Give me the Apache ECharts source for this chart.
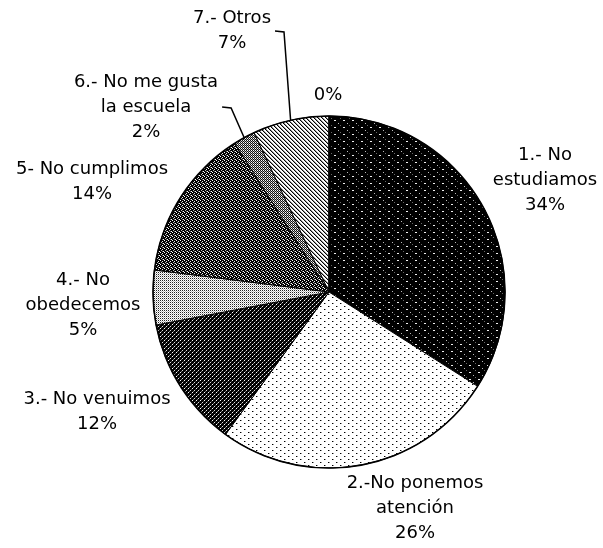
<!DOCTYPE html>
<html>
<head>
<meta charset="utf-8">
<script src="https://cdn.jsdelivr.net/npm/echarts@6/dist/echarts.min.js"></script>
<style>
  html, body { margin: 0; background: #fff; }
  #chart { width: 603px; height: 548px; }
</style>
</head>
<body>
<div id="chart"></div>
<script>
// datos del grafico
var categories = ['1.- No\nestudiamos', '2.-No ponemos\natención', '3.- No venuimos', '4.- No\nobedecemos',
  '5- No cumplimos', '6.- No me gusta\nla escuela', '7.- Otros', ''];
var values = [34, 26, 12, 5, 14, 2, 7, 0];

// donde va cada etiqueta (centro del bloque de texto)
var labelPos = [[545, 180], [415, 508], [97, 412], [83, 305], [92, 182], [146, 107], [232, 31], [328, 95]];
var withLine = [5, 6];

// tramas de relleno, como en el original escaneado
function tile(w, h, bg, dots) {
  var c = document.createElement('canvas');
  c.width = w; c.height = h;
  var g = c.getContext('2d');
  g.fillStyle = bg;
  g.fillRect(0, 0, w, h);
  dots.forEach(function (d) {
    g.fillStyle = d[4];
    g.fillRect(d[0], d[1], d[2], d[3]);
  });
  return { image: c, repeat: 'repeat' };
}

var fills = [
  tile(9, 7, '#000', [[1, 1, 2, 1, '#eee'], [5, 4, 1, 1, '#bbb'], [7, 6, 1, 1, '#666']]),
  tile(8, 6, '#fff', [[0, 0, 1, 1, '#000'], [1, 0, 1, 1, '#999'], [4, 3, 1, 1, '#000'], [5, 3, 1, 1, '#999']]),
  tile(4, 4, '#000', [[0, 0, 1, 1, '#fff'], [2, 2, 1, 1, '#ddd'], [1, 3, 1, 1, '#777'], [3, 1, 1, 1, '#444']]),
  tile(2, 2, '#fff', [[0, 0, 1, 1, '#222'], [1, 1, 1, 1, '#bbb']]),
  tile(4, 4, '#000', [[0, 0, 1, 1, '#fff'], [2, 1, 1, 1, '#eee'], [1, 2, 1, 1, '#bbb'], [3, 3, 1, 1, '#fff'], [2, 3, 1, 1, '#666']]),
  tile(2, 2, '#111', [[1, 0, 1, 1, '#fff'], [0, 1, 1, 1, '#aaa']]),
  tile(4, 4, '#fff', [[0, 0, 1, 1, '#000'], [1, 1, 1, 1, '#000'], [2, 2, 1, 1, '#000'], [3, 3, 1, 1, '#000'],
    [1, 0, 1, 1, '#999'], [2, 1, 1, 1, '#999'], [3, 2, 1, 1, '#999'], [0, 3, 1, 1, '#999']]),
  '#fff'
];

var pieData = values.map(function (v, i) {
  return {
    name: categories[i],
    value: v,
    itemStyle: { color: fills[i] },
    labelLine: { show: withLine.indexOf(i) >= 0 }
  };
});

var myChart = echarts.init(document.getElementById('chart'));

var option = {
  animation: false,
  series: [{
    type: 'pie',
    center: [329, 292],
    radius: 176,
    startAngle: 90,
    clockwise: true,
    avoidLabelOverlap: false,
    percentPrecision: 0,
    data: pieData,
    itemStyle: { borderColor: '#000', borderWidth: 1 },
    emphasis: { disabled: true },
    label: {
      show: true,
      position: 'outside',
      color: '#000',
      fontFamily: 'DejaVu Sans',
      fontSize: 18,
      lineHeight: 25,
      align: 'center',
      formatter: function (p) {
        return p.name ? p.name + '\n' + p.percent + '%' : p.percent + '%';
      }
    },
    labelLine: {
      length: 10,
      length2: 10,
      lineStyle: { color: '#000', width: 1.5 }
    },
    labelLayout: function (params) {
      var i = params.dataIndex;
      var pos = labelPos[i];
      var out = { x: pos[0], y: pos[1], align: 'center', verticalAlign: 'middle' };
      if (withLine.indexOf(i) >= 0 && params.labelLinePoints) {
        var sx = pos[0] + params.labelRect.width / 2 + 4;
        var anchor = params.labelLinePoints[0];
        out.labelLinePoints = [[sx, pos[1]], [sx + 9, pos[1] + 1], [anchor[0], anchor[1]]];
      }
      return out;
    }
  }, {
    // contorno del circulo
    type: 'pie',
    center: [329, 292],
    radius: 176,
    silent: true,
    data: [{ value: 1, name: 'borde' }],
    itemStyle: { color: 'rgba(0,0,0,0)', borderColor: '#000', borderWidth: 1.6 },
    label: { show: false },
    labelLine: { show: false },
    emphasis: { disabled: true }
  }]
};

myChart.setOption(option);
</script>
</body>
</html>
